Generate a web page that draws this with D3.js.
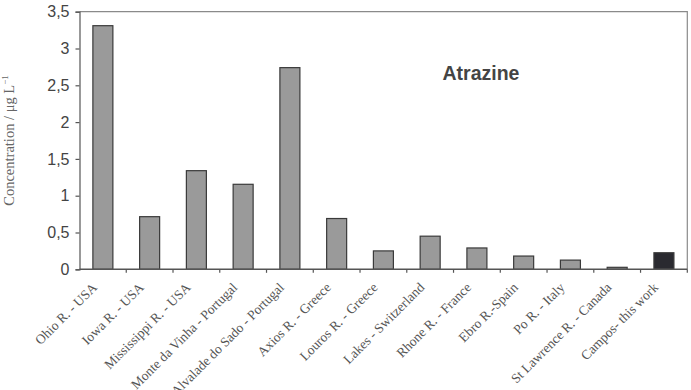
<!DOCTYPE html>
<html><head><meta charset="utf-8">
<script src="https://cdn.jsdelivr.net/npm/d3@7"></script>
<style>
body{margin:0;background:#fff;}
svg{display:block;}
</style></head>
<body>
<svg id="chart" width="691" height="390"></svg>
<script>
const categories = ["Ohio R. - USA","Iowa R. - USA","Mississippi R. - USA","Monte da Vinha - Portugal","Alvalade do Sado - Portugal","Axios R. - Greece","Louros R. - Greece","Lakes - Switzerland","Rhone R. - France","Ebro R.-Spain","Po R. - Italy","St Lawrence R. - Canada","Campos- this work"];
const values = [3.31, 0.715, 1.34, 1.155, 2.74, 0.69, 0.25, 0.45, 0.29, 0.18, 0.125, 0.027, 0.225];
const highlight = ["Campos- this work"];
const yTicks = [0, 0.5, 1, 1.5, 2, 2.5, 3, 3.5];
const yTickLabels = ["0","0,5","1","1,5","2","2,5","3","3,5"];

const svg = d3.select("#chart");
const m = {left: 79.5, top: 11.7, right: 687.3, bottom: 269.3};

const xb = d3.scaleBand().domain(categories).range([m.left, m.right]);
const y = d3.scaleLinear().domain([0, 3.5]).range([m.bottom, m.top]);

// frame
svg.append("path")
  .attr("d", `M${m.left},${m.top}H${m.right}V${m.bottom}`)
  .attr("fill","none").attr("stroke","#8a8a8a").attr("stroke-width",1.2);

// bars
svg.selectAll("rect.bar").data(categories).join("rect")
  .attr("class","bar")
  .attr("x", d => xb(d) + (xb.bandwidth() - 20) / 2)
  .attr("width", 20)
  .attr("y", (d,i) => y(values[i]))
  .attr("height", (d,i) => y(0) - y(values[i]))
  .attr("fill", d => highlight.includes(d) ? "#2a2a30" : "#9a9a9a")
  .attr("stroke", "#3a3a3a").attr("stroke-width", 1.2);

// y axis
const yAxis = d3.axisLeft(y).tickValues(yTicks).tickFormat((d,i) => yTickLabels[i]).tickSize(4).tickPadding(6);
const gy = svg.append("g").attr("transform", `translate(${m.left},0)`).call(yAxis);
gy.select(".domain").attr("stroke","#555").attr("stroke-width",1.2);
gy.selectAll(".tick line").attr("stroke","#555").attr("stroke-width",1.2);
gy.selectAll(".tick text").attr("font-family","Liberation Sans, Arial, sans-serif").attr("font-size","16px").attr("fill","#444");

// x axis with ticks at band boundaries
const gx = svg.append("g").attr("transform", `translate(0,${m.bottom})`);
gx.append("line").attr("x1", m.left).attr("x2", m.right).attr("stroke","#555").attr("stroke-width",1.4);
gx.selectAll("line.t").data(categories).join("line")
  .attr("class","t")
  .attr("x1", d => xb(d) + xb.bandwidth())
  .attr("x2", d => xb(d) + xb.bandwidth())
  .attr("y1", 0).attr("y2", 3.5).attr("stroke","#555").attr("stroke-width",1.2);

// x labels
svg.selectAll("text.xl").data(categories).join("text")
  .attr("class","xl")
  .attr("transform", d => `translate(${xb(d) + xb.bandwidth()/2 - 5},${m.bottom + 19}) rotate(-45)`)
  .attr("text-anchor","end")
  .attr("font-family","Liberation Serif, Times New Roman, serif")
  .attr("font-size","13.5px").attr("fill","#555")
  .text(d => d);

// y title
svg.append("text")
  .attr("transform", `translate(14,${(m.top + m.bottom)/2}) rotate(-90)`)
  .attr("text-anchor","middle")
  .attr("font-family","Liberation Serif, Times New Roman, serif")
  .attr("font-size","14.5px").attr("fill","#666")
  .text("Concentration / \u03bcg L")
  .append("tspan").attr("dy","-6").attr("font-size","9px").text("\u22121");

// chart label
svg.append("text")
  .attr("x", 442.5).attr("y", 80)
  .attr("font-family","Liberation Sans, Arial, sans-serif")
  .attr("font-weight","bold").attr("font-size","19.5px").attr("fill","#444")
  .text("Atrazine");
</script>
</body></html>
